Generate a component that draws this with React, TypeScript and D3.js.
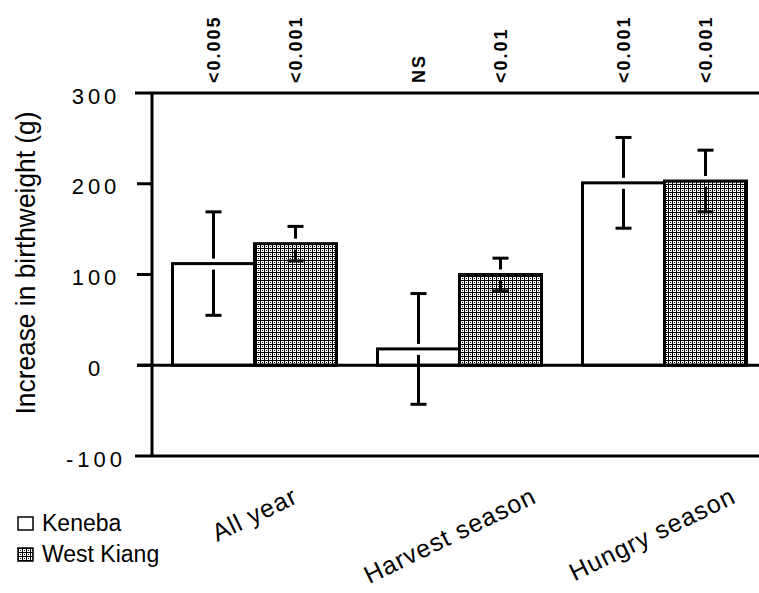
import * as d3 from "d3";

const groups = ["All year", "Harvest season", "Hungry season"];
const series = ["Keneba", "West Kiang"];
const kenebaValues = [112, 18, 201];
const kenebaErrors = [57, 61, 50];
const westKiangValues = [134, 100, 203];
const westKiangErrors = [19, 18, 34];
const pLabels = [
  ["<0.005", "<0.001"],
  ["NS", "<0.01"],
  ["<0.001", "<0.001"],
];
const yTicks = [-100, 0, 100, 200, 300];

const width = 759;
const height = 593;
const left = 152;
const top = 93;
const bottom = 456;
const font = "'Liberation Sans', Arial, sans-serif";

export default function App() {
  const x0 = d3.scaleBand().domain(groups).range([left, 767]).paddingInner(0.2).paddingOuter(0.1);
  const x1 = d3.scaleBand().domain(series).range([0, x0.bandwidth()]);
  const y = d3.scaleLinear().domain([-100, 300]).range([bottom, top]);

  const rows = groups.flatMap((g, i) => [
    { g, s: series[0], v: kenebaValues[i], e: kenebaErrors[i], p: pLabels[i][0] },
    { g, s: series[1], v: westKiangValues[i], e: westKiangErrors[i], p: pLabels[i][1] },
  ]);
  const fill = (s) => (s === series[0] ? "#fff" : "url(#dots)");
  const capW = 16;

  return (
    <svg width={width} height={height} style={{ position: "absolute", left: 0, top: 0, background: "#fff" }}>
      <defs>
        <pattern id="dots" width={4} height={4} patternUnits="userSpaceOnUse">
          <rect width={4} height={4} fill="#fff" />
          <rect width={4} height={1} fill="#000" />
          <rect width={1} height={4} fill="#000" />
          <rect x={2} y={2} width={1} height={1} fill="#000" />
        </pattern>
      </defs>

      {/* bars */}
      {rows.map((d, i) => {
        const bx = x0(d.g) + x1(d.s);
        const y0 = y(0);
        const yv = y(d.v);
        return (
          <rect key={"b" + i} x={bx} y={Math.min(y0, yv)} width={x1.bandwidth()} height={Math.abs(y0 - yv)}
            fill={fill(d.s)} stroke="#000" strokeWidth={3} />
        );
      })}

      {/* error bars, with a small gap where they cross the bar top */}
      {rows.map((d, i) => {
        const cx = x0(d.g) + x1(d.s) + x1.bandwidth() / 2;
        const yt = y(d.v + d.e);
        const yb = y(d.v - d.e);
        const ym = y(d.v);
        return (
          <g key={"e" + i} stroke="#000" strokeWidth={3}>
            <line x1={cx} x2={cx} y1={yt} y2={ym - 5} />
            <line x1={cx} x2={cx} y1={ym + 6} y2={yb} />
            <line x1={cx - capW / 2} x2={cx + capW / 2} y1={yt} y2={yt} />
            <line x1={cx - capW / 2} x2={cx + capW / 2} y1={yb} y2={yb} />
          </g>
        );
      })}

      {/* axes */}
      <g stroke="#000" strokeWidth={3}>
        <line x1={left} x2={left} y1={top} y2={bottom} />
        <line x1={135} x2={width} y1={top} y2={top} />
        <line x1={135} x2={width} y1={bottom} y2={bottom} />
        <line x1={137} x2={width} y1={y(0)} y2={y(0)} />
        {yTicks.filter((t) => t > -100 && t < 300).map((t) => (
          <line key={t} x1={137} x2={left} y1={y(t)} y2={y(t)} />
        ))}
      </g>
      <g fontFamily={font} fontSize={22} letterSpacing={4} textAnchor="middle">
        {yTicks.map((t) => (
          <text key={t} x={96} y={y(t) + 3} dominantBaseline="central">{t}</text>
        ))}
      </g>

      <text transform={`translate(35,263) rotate(-90)`} fontFamily={font} fontSize={28} textAnchor="middle"
        textLength={303} lengthAdjust="spacingAndGlyphs">
        Increase in birthweight (g)
      </text>

      {/* p values */}
      <g fontFamily={font} fontSize={18} fontWeight="bold" letterSpacing={2}>
        {rows.map((d, i) => {
          const cx = x0(d.g) + x1(d.s) + x1.bandwidth() / 2;
          return (
            <text key={"p" + i} transform={`translate(${cx + 6},83) rotate(-90)`}>{d.p}</text>
          );
        })}
      </g>

      {/* category labels */}
      <g fontFamily={font} fontSize={25} letterSpacing={1} textAnchor="end">
        {groups.map((g) => {
          const cx = x0(g) + x0.bandwidth() / 2;
          return (
            <text key={g} transform={`translate(${cx + g.length * 5.6},502) rotate(-26)`}>{g}</text>
          );
        })}
      </g>

      {/* legend */}
      <g fontFamily={font} fontSize={23}>
        {series.map((s, i) => (
          <g key={s} transform={`translate(18,${517 + i * 31})`}>
            <rect width={15} height={13} fill={fill(s)} stroke="#000" strokeWidth={1.5} />
            <text x={24} y={14}>{s}</text>
          </g>
        ))}
      </g>
    </svg>
  );
}
